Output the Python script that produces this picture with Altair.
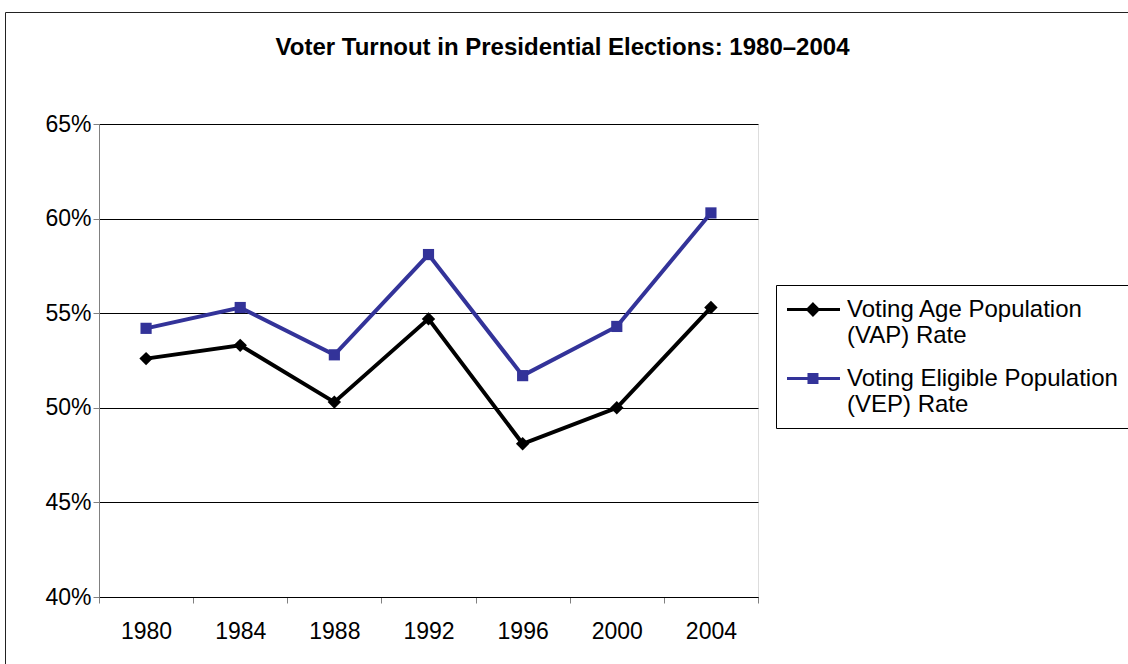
import altair as alt
import pandas as pd

# Turnout values (percent) for each presidential election year
years = ["1980", "1984", "1988", "1992", "1996", "2000", "2004"]
vap_rate = [52.6, 53.3, 50.3, 54.7, 48.1, 50.0, 55.3]
vep_rate = [54.2, 55.3, 52.8, 58.1, 51.7, 54.3, 60.3]

series_names = [
    "Voting Age Population (VAP) Rate",
    "Voting Eligible Population (VEP) Rate",
]
series_colors = ["#000000", "#333399"]
y_ticks = [0.40, 0.45, 0.50, 0.55, 0.60, 0.65]
title_text = "Voter Turnout in Presidential Elections: 1980\u20132004"

rows = []
for name, values in zip(series_names, [vap_rate, vep_rate]):
    for year, value in zip(years, values):
        rows.append({"year": year, "series": name, "rate": value / 100})
df = pd.DataFrame(rows)

FONT = "Liberation Sans"
W, H = 659, 473
PAD_L, PAD_T = 99, 124

x_enc = alt.X(
    "year:O",
    title=None,
    sort=years,
    bandPosition=0.5,
    scale=alt.Scale(type="band", paddingInner=0, paddingOuter=0),
    axis=alt.Axis(
        tickBand="extent",
        labelAngle=0,
        labelFont=FONT,
        labelFontSize=23,
        labelColor="black",
        labelPadding=17,
        tickSize=6,
        tickColor="#808080",
        domainColor="#000000",
        grid=False,
    ),
)
y_enc = alt.Y(
    "rate:Q",
    title=None,
    scale=alt.Scale(domain=[0.40, 0.65], nice=False, zero=False),
    axis=alt.Axis(
        values=y_ticks,
        format=".0%",
        labelFont=FONT,
        labelFontSize=23,
        labelColor="black",
        labelPadding=2,
        tickSize=6,
        tickColor="#808080",
        domainColor="#808080",
        grid=True,
        gridColor="#000000",
        gridOpacity=1,
        gridWidth=1,
    ),
)
color_scale = alt.Scale(domain=series_names, range=series_colors)

# One shared legend: line + marker symbol, two-line labels, boxed.
# Symbol paths are in units of 12 px (symbolSize 576).
symbol_paths = [
    "M-1.125,0H3.29M1.04,-0.44L1.48,0L1.04,0.44L0.6,0Z",
    "M-1.125,0H3.29M0.707,-0.333H1.373V0.333H0.707Z",
]
legend = alt.Legend(
    title=None,
    orient="none",
    legendX=677,
    legendY=161,
    direction="vertical",
    strokeColor="black",
    fillColor="white",
    padding=11,
    labelFont=FONT,
    labelFontSize=24,
    labelColor="black",
    labelLimit=0,
    labelBaseline="middle",
    labelOffset=33,
    labelExpr="[slice(datum.label, 0, indexof(datum.label, ' (')), "
              "slice(datum.label, indexof(datum.label, ' (') + 1)]",
    symbolSize=576,
    symbolStrokeWidth=3,
    symbolOpacity=1,
    symbolOffset=0,
    rowPadding=17,
)

base = alt.Chart(df)

lines = base.mark_line(strokeWidth=4).encode(
    x=x_enc,
    y=y_enc,
    color=alt.Color("series:N", scale=color_scale, legend=legend),
)

vap_points = (
    base.transform_filter(alt.datum.series == series_names[0])
    .mark_point(shape="diamond", filled=True, size=180, opacity=1)
    .encode(x=x_enc, y=y_enc, color=alt.value(series_colors[0]))
)
vep_points = (
    base.transform_filter(alt.datum.series == series_names[1])
    .mark_point(shape="square", filled=True, size=125, opacity=1)
    .encode(x=x_enc, y=y_enc, color=alt.value(series_colors[1]))
)

# Supplies the legend's symbol shapes; its own points are drawn with zero size
legend_layer = base.mark_point(filled=True, size=0, opacity=1, strokeWidth=3).encode(
    x=x_enc,
    y=y_enc,
    fill=alt.Fill("series:N", scale=color_scale, legend=legend),
    stroke=alt.Stroke("series:N", scale=color_scale, legend=legend),
    shape=alt.Shape(
        "series:N",
        scale=alt.Scale(domain=series_names, range=symbol_paths),
        legend=legend,
    ),
)

# Outer chart border
frame = (
    alt.Chart(alt.Data(values=[{}]))
    .mark_rect(fill="white", fillOpacity=0, stroke="#222222", strokeWidth=1)
    .encode(
        x=alt.value(-PAD_L + 5.5),
        x2=alt.value(W + 600),
        y=alt.value(-PAD_T + 12.5),
        y2=alt.value(H + 300),
    )
)

chart = (
    alt.layer(frame, lines, vap_points, vep_points, legend_layer)
    .properties(
        width=W,
        height=H,
        padding={"left": PAD_L, "top": PAD_T, "right": 1128 - PAD_L - W, "bottom": 664 - PAD_T - H},
        autosize=alt.AutoSizeParams(type="none"),
        title=alt.TitleParams(
            title_text,
            font=FONT,
            fontSize=24,
            fontWeight="bold",
            color="black",
            anchor="middle",
            frame="group",
            baseline="middle",
            offset=0,
            dx=134,
            dy=60,
        ),
    )
    .configure_view(stroke=None)
    .configure(background="white")
)

chart.save("out.html", embed_options={"renderer": "svg", "actions": False})
